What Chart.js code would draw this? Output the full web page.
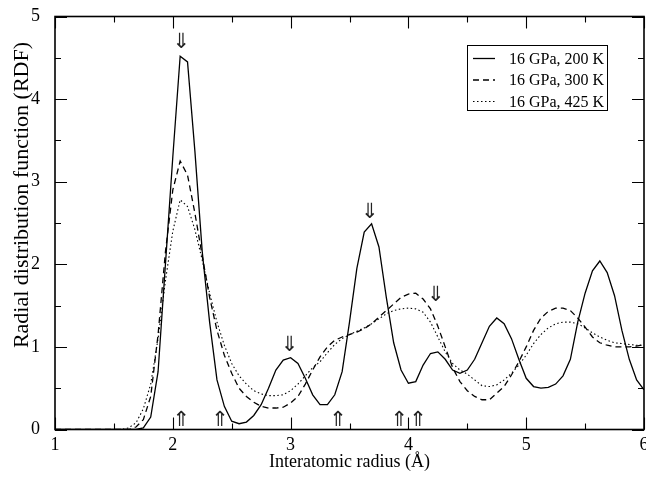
<!DOCTYPE html>
<html>
<head>
<meta charset="utf-8">
<script src="https://cdn.jsdelivr.net/npm/chart.js"></script>
<style>
    html, body { margin: 0; padding: 0; background: #fff; }
</style>
</head>
<body>
<canvas id="rdfChart" width="646" height="477"></canvas>
<script>
// interatomic radius (Å), sampled every 1/16 Å where the curves are non-zero
var radius = [1.0, 1.5, 1.5625, 1.625, 1.6875, 1.75, 1.8125, 1.875, 1.9375,
    2.0, 2.0625, 2.125, 2.1875, 2.25, 2.3125, 2.375, 2.4375, 2.5, 2.5625, 2.625, 2.6875, 2.75, 2.8125, 2.875, 2.9375,
    3.0, 3.0625, 3.125, 3.1875, 3.25, 3.3125, 3.375, 3.4375, 3.5, 3.5625, 3.625, 3.6875, 3.75, 3.8125, 3.875, 3.9375,
    4.0, 4.0625, 4.125, 4.1875, 4.25, 4.3125, 4.375, 4.4375, 4.5, 4.5625, 4.625, 4.6875, 4.75, 4.8125, 4.875, 4.9375,
    5.0, 5.0625, 5.125, 5.1875, 5.25, 5.3125, 5.375, 5.4375, 5.5, 5.5625, 5.625, 5.6875, 5.75, 5.8125, 5.875, 5.9375, 6.0];

var rdf200 = [0, 0, 0, 0, 0, 0.02, 0.15, 0.7, 2.0,
    3.3, 4.52, 4.45, 3.37, 2.15, 1.3, 0.6, 0.28, 0.1, 0.07, 0.09, 0.17, 0.3, 0.5, 0.72, 0.84,
    0.87, 0.8, 0.62, 0.42, 0.3, 0.3, 0.42, 0.7, 1.3, 1.95, 2.39, 2.49, 2.21, 1.6, 1.05, 0.72,
    0.56, 0.58, 0.78, 0.92, 0.94, 0.85, 0.72, 0.68, 0.72, 0.85, 1.05, 1.25, 1.35, 1.28, 1.1, 0.85,
    0.62, 0.52, 0.5, 0.51, 0.55, 0.65, 0.85, 1.3, 1.65, 1.92, 2.04, 1.9, 1.62, 1.2, 0.85, 0.6, 0.48];

var rdf300 = [0, 0, 0, 0, 0.03, 0.12, 0.4, 1.15, 2.15,
    2.9, 3.25, 3.08, 2.62, 2.1, 1.6, 1.2, 0.9, 0.68, 0.5, 0.4, 0.33, 0.28, 0.26, 0.26, 0.27,
    0.32, 0.4, 0.55, 0.72, 0.88, 1.0, 1.08, 1.12, 1.15, 1.18, 1.22, 1.28, 1.36, 1.44, 1.52, 1.6,
    1.64, 1.65, 1.58, 1.46, 1.25, 1.0, 0.75, 0.58, 0.47, 0.4, 0.36, 0.36, 0.44, 0.52, 0.66, 0.82,
    1.0, 1.2, 1.35, 1.43, 1.47, 1.47, 1.44, 1.35, 1.24, 1.12, 1.05, 1.02, 1.0, 1.0, 1.0, 1.01, 1.03];

var rdf425 = [0, 0, 0, 0.02, 0.08, 0.25, 0.55, 1.1, 1.8,
    2.4, 2.78, 2.7, 2.42, 2.05, 1.65, 1.3, 1.02, 0.8, 0.65, 0.55, 0.47, 0.43, 0.41, 0.41, 0.42,
    0.47, 0.55, 0.65, 0.75, 0.82, 0.93, 1.03, 1.1, 1.15, 1.19, 1.23, 1.28, 1.34, 1.4, 1.44, 1.46,
    1.47, 1.46, 1.42, 1.3, 1.12, 0.94, 0.8, 0.72, 0.67, 0.6, 0.53, 0.52, 0.54, 0.6, 0.68, 0.78,
    0.9, 1.04, 1.15, 1.23, 1.28, 1.3, 1.3, 1.28, 1.23, 1.17, 1.12, 1.08, 1.05, 1.04, 1.03, 1.02, 1.02];

var seriesNames = ["16 GPa, 200 K", "16 GPa, 300 K", "16 GPa, 425 K"];

var xTicks = [1, 2, 3, 4, 5, 6];
var yTicks = [0, 1, 2, 3, 4, 5];

// peak markers (data coordinates)
var downArrowX = [2.07, 2.99, 3.67, 4.23];
var downArrowY = [4.68, 1.02, 2.63, 1.62];
var upArrowX = [2.07, 2.40, 3.40, 3.92, 4.08];
var upArrowY = [0.11, 0.11, 0.11, 0.11, 0.11];

const serif = "'Liberation Serif', 'Times New Roman', serif";
const toPoints = (ys) => radius.map((r, i) => ({ x: r, y: ys[i] }));

const styles = [
    { borderDash: [], borderWidth: 1.3 },
    { borderDash: [6, 4], borderWidth: 1.3 },
    { borderDash: [1.5, 2.5], borderWidth: 1.1 }
];
const series = [rdf200, rdf300, rdf425];

const decor = {
    id: 'decor',
    afterDraw(chart) {
        const ctx = chart.ctx, a = chart.chartArea;
        const xs = chart.scales.x, ys = chart.scales.y;
        ctx.save();

        // frame
        ctx.strokeStyle = '#000';
        ctx.lineWidth = 1.6;
        ctx.setLineDash([]);
        ctx.strokeRect(a.left, a.top, a.right - a.left, a.bottom - a.top);

        // inward ticks on all four sides
        ctx.lineWidth = 1.1;
        ctx.beginPath();
        xTicks.forEach((v, i) => {
            const px = Math.round(xs.getPixelForValue(v)) + 0.5;
            ctx.moveTo(px, a.bottom); ctx.lineTo(px, a.bottom - 12);
            ctx.moveTo(px, a.top); ctx.lineTo(px, a.top + 12);
            if (i < xTicks.length - 1) {
                const pm = Math.round(xs.getPixelForValue((v + xTicks[i + 1]) / 2)) + 0.5;
                ctx.moveTo(pm, a.bottom); ctx.lineTo(pm, a.bottom - 6);
                ctx.moveTo(pm, a.top); ctx.lineTo(pm, a.top + 6);
            }
        });
        yTicks.forEach((v, i) => {
            const py = Math.round(ys.getPixelForValue(v)) + 0.5;
            ctx.moveTo(a.left, py); ctx.lineTo(a.left + 12, py);
            ctx.moveTo(a.right, py); ctx.lineTo(a.right - 12, py);
            if (i < yTicks.length - 1) {
                const pm = Math.round(ys.getPixelForValue((v + yTicks[i + 1]) / 2)) + 0.5;
                ctx.moveTo(a.left, pm); ctx.lineTo(a.left + 6, pm);
                ctx.moveTo(a.right, pm); ctx.lineTo(a.right - 6, pm);
            }
        });
        ctx.stroke();

        // arrows
        ctx.fillStyle = '#222';
        ctx.font = "21px 'DejaVu Sans'";
        ctx.textAlign = 'center';
        ctx.textBaseline = 'middle';
        downArrowX.forEach((x, i) => ctx.fillText('⇓', xs.getPixelForValue(x), ys.getPixelForValue(downArrowY[i])));
        upArrowX.forEach((x, i) => ctx.fillText('⇑', xs.getPixelForValue(x), ys.getPixelForValue(upArrowY[i])));

        // y axis title
        ctx.fillStyle = '#000';
        ctx.font = '22px ' + serif;
        ctx.translate(22, 195);
        ctx.rotate(-Math.PI / 2);
        ctx.fillText('Radial distribution function (RDF)', 0, 0);
        ctx.setTransform(1, 0, 0, 1, 0, 0);

        // legend box
        const lx = 467, ly = 45;
        ctx.lineWidth = 1;
        ctx.strokeStyle = '#000';
        ctx.strokeRect(lx + 0.5, ly + 0.5, 140, 65);
        ctx.font = '16px ' + serif;
        ctx.textAlign = 'left';
        seriesNames.forEach((name, i) => {
            const ry = ly + 13.5 + i * 21.5;
            ctx.setLineDash(styles[i].borderDash);
            ctx.lineWidth = styles[i].borderWidth;
            ctx.beginPath();
            ctx.moveTo(lx + 6, ry); ctx.lineTo(lx + 28, ry);
            ctx.stroke();
            ctx.setLineDash([]);
            ctx.fillText(name, lx + 42, ry + 1);
        });
        ctx.restore();
    }
};

new Chart('rdfChart', {
    type: 'line',
    data: {
        datasets: series.map((s, i) => ({
            label: seriesNames[i],
            data: toPoints(s),
            borderColor: '#000',
            borderWidth: styles[i].borderWidth,
            borderDash: styles[i].borderDash,
            pointRadius: 0,
            tension: 0,
            fill: false
        }))
    },
    options: {
        responsive: false,
        animation: false,
        devicePixelRatio: 1,
        layout: { padding: { top: 16.5, right: 2, left: 0, bottom: 0 } },
        plugins: { legend: { display: false }, tooltip: { enabled: false } },
        scales: {
            x: {
                type: 'linear', min: 1, max: 6,
                afterBuildTicks: (s) => { s.ticks = xTicks.map(v => ({ value: v })); },
                grid: { display: false },
                border: { display: false },
                ticks: { color: '#000', font: { family: serif, size: 18 }, padding: -3, maxRotation: 0 },
                title: { display: true, text: 'Interatomic radius (Å)', color: '#000', font: { family: serif, size: 18 }, padding: { top: 4, bottom: 4 } },
                afterFit: (s) => { s.height = 47.5; s.paddingRight = 0; s.paddingLeft = 0; }
            },
            y: {
                min: 0, max: 5,
                afterBuildTicks: (s) => { s.ticks = yTicks.map(v => ({ value: v })); },
                grid: { display: false },
                border: { display: false },
                ticks: { color: '#000', font: { family: serif, size: 18 }, padding: 7 },
                afterFit: (s) => { s.width = 55; s.paddingTop = 0; s.paddingBottom = 0; }
            }
        }
    },
    plugins: [decor]
});
</script>
</body>
</html>
